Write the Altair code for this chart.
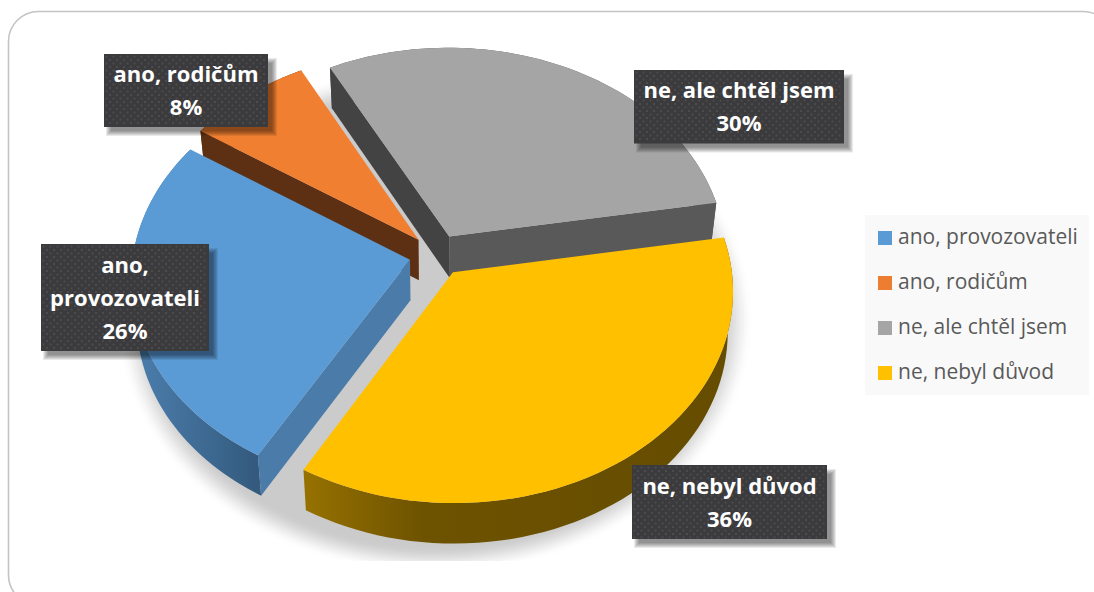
import math
import altair as alt

# Survey answers, in drawing order around the pie
categories = ["ano, provozovateli", "ano, rodičům", "ne, ale chtěl jsem", "ne, nebyl důvod"]
shares = [26, 8, 30, 36]
top_colors = ["#5B9BD5", "#F07F32", "#A5A5A5", "#FFC000"]
legend_colors = ["#5B9BD5", "#ED7D31", "#A5A5A5", "#FFC000"]
label_lines = [["ano,", "provozovateli"], ["ano, rodičům"], ["ne, ale chtěl jsem"], ["ne, nebyl důvod"]]

# Page and pie layout (pixels)
W, H = 1094, 592
CX, CY = 437, 255
RX, RY = 277, 208
PERSPECTIVE = 0.0857
EXPLODE = 0.10
DEPTH = 40.5
BASE_SHRINK = 0.982
START_ANGLE = 120.0

LABEL_BOXES = [(41, 244, 209, 351), (104, 54, 268, 127), (634, 70, 844, 143.5), (632, 465, 827, 539)]
LINE_STEP = 33

x_scale = alt.Scale(domain=[0, W], range=[0, W], clamp=False)
y_scale = alt.Scale(domain=[0, H], range=[0, H], clamp=False)
identity = dict(type="identity", scale=1, translate=[0, 0])


def project(x, y):
    w = 1 - PERSPECTIVE * y
    return (CX + RX * x / w, CY + RY * y / w)


def lower(p):
    return (CX + BASE_SHRINK * (p[0] - CX), p[1] + DEPTH)


def feature(points, color=None):
    ring = [list(p) for p in points]
    ring.append(ring[0])
    return {
        "type": "Feature",
        "properties": {"c": color},
        "geometry": {"type": "Polygon", "coordinates": [ring]},
    }


def poly(points, fill):
    data = alt.InlineData(values=[feature(points)])
    return alt.Chart(data).mark_geoshape(fill=fill, strokeWidth=0).project(**identity)


def sideways(stops):
    return {
        "gradient": "linear", "x1": 0, "y1": 0, "x2": 1, "y2": 0,
        "stops": [{"offset": o, "color": c} for o, c in stops],
    }


# Soft floor shadow built from concentric rings, light on the outside
def floor_shadow():
    rings = []
    n = 14
    for i in range(n):
        f = i / (n - 1)
        r = 1.0 - 0.11 * f
        ease = f * f * (3 - 2 * f)
        v = round(255 - (255 - 203) * ease)
        pts = []
        for deg in range(0, 360, 3):
            a = math.radians(deg)
            px = 435 + 320 * r * math.cos(a)
            py = 320 + 255 * r * math.sin(a)
            pts.append((min(max(px, 115), 758), min(py, 561)))
        rings.append(feature(pts, f"rgb({v},{v},{v})"))
    return (
        alt.Chart(alt.InlineData(values=rings))
        .mark_geoshape(strokeWidth=0)
        .encode(fill=alt.Fill("properties.c:N", scale=None, legend=None))
        .project(**identity)
    )


# Angular span of every slice, clockwise on screen
spans = []
angle = START_ANGLE
for s in shares:
    spans.append((angle, angle + s * 3.6))
    angle += s * 3.6

rim_fills = [
    sideways([(0, "#4C7FAE"), (1, "#33597C")]),
    "#5E3013",
    "#595959",
    sideways([(0, "#977200"), (0.28, "#6D5200"), (1, "#654C00")]),
]
# Which radial faces can be seen: start and end of the span
wall_fills = [("#4A7BA9", None), ("#5E3013", None), ("#434343", "#595959"), (None, None)]


def slice_layers(i):
    t0, t1 = spans[i]
    mid = math.radians((t0 + t1) / 2)
    ax, ay = EXPLODE * math.cos(mid), EXPLODE * math.sin(mid)
    apex = project(ax, ay)
    steps = 60
    arc = []
    for j in range(steps + 1):
        t = math.radians(t0 + (t1 - t0) * j / steps)
        arc.append(project(ax + math.cos(t), ay + math.sin(t)))
    layers = [poly(arc + [lower(p) for p in reversed(arc)], rim_fills[i])]
    start_fill, end_fill = wall_fills[i]
    if start_fill:
        layers.append(poly([apex, arc[0], lower(arc[0]), lower(apex)], start_fill))
    if end_fill:
        layers.append(poly([apex, arc[-1], lower(arc[-1]), lower(apex)], end_fill))
    layers.append(poly([apex] + arc, top_colors[i]))
    return layers


# Outer rounded frame, running past the page edge on the right and bottom
frame = (
    alt.Chart(alt.InlineData(values=[{"a": 8.5, "b": 1113, "c": 11.5, "d": 605}]))
    .mark_rect(fill="white", stroke="#C4C4C4", strokeWidth=1.6, cornerRadius=30)
    .encode(
        x=alt.X("a:Q", scale=x_scale, axis=None), x2="b:Q",
        y=alt.Y("c:Q", scale=y_scale, axis=None), y2="d:Q",
    )
)

# Label boxes: blurred drop shadow, dark plate, dotted texture, text
shadow_rows = []
for (x0, y0, x1, y1) in LABEL_BOXES:
    for g in range(6):
        shadow_rows.append({"a": x0 + 2 + g, "b": x1 + 9 - g, "c": y0 + 4 + g, "d": y1 + 9 - g})
label_shadow = (
    alt.Chart(alt.InlineData(values=shadow_rows))
    .mark_rect(color="#000000", opacity=0.085)
    .encode(
        x=alt.X("a:Q", scale=x_scale, axis=None), x2="b:Q",
        y=alt.Y("c:Q", scale=y_scale, axis=None), y2="d:Q",
    )
)
plates = (
    alt.Chart(alt.InlineData(values=[dict(a=b[0], c=b[1], b=b[2], d=b[3]) for b in LABEL_BOXES]))
    .mark_rect(color="#3B3B3D")
    .encode(
        x=alt.X("a:Q", scale=x_scale, axis=None), x2="b:Q",
        y=alt.Y("c:Q", scale=y_scale, axis=None), y2="d:Q",
    )
)
dots = []
for (x0, y0, x1, y1) in LABEL_BOXES:
    row = 0
    yy = y0 + 2.5
    while yy < y1 - 1:
        xx = x0 + (2.5 if row % 2 == 0 else 6)
        while xx < x1 - 1:
            dots.append({"x": xx, "y": yy})
            xx += 7
        yy += 3.5
        row += 1
texture = (
    alt.Chart(alt.InlineData(values=dots))
    .mark_square(size=4, color="#4E4E50", opacity=0.9, strokeWidth=0)
    .encode(x=alt.X("x:Q", scale=x_scale, axis=None), y=alt.Y("y:Q", scale=y_scale, axis=None))
)
label_rows = []
for box, lines, share in zip(LABEL_BOXES, label_lines, shares):
    all_lines = lines + [f"{share}%"]
    mid_x = (box[0] + box[2]) / 2
    mid_y = (box[1] + box[3]) / 2 + 1
    for k, line in enumerate(all_lines):
        label_rows.append({"x": mid_x, "y": mid_y + (k - (len(all_lines) - 1) / 2) * LINE_STEP, "t": line})
label_text = (
    alt.Chart(alt.InlineData(values=label_rows))
    .mark_text(font="Open Sans", fontWeight="bold", fontSize=22, color="white", baseline="middle", align="center")
    .encode(x=alt.X("x:Q", scale=x_scale, axis=None), y=alt.Y("y:Q", scale=y_scale, axis=None), text="t:N")
)

# Legend panel on the right
legend_panel = (
    alt.Chart(alt.InlineData(values=[{"a": 865, "b": 1089, "c": 215, "d": 395}]))
    .mark_rect(color="#F9F9F9")
    .encode(
        x=alt.X("a:Q", scale=x_scale, axis=None), x2="b:Q",
        y=alt.Y("c:Q", scale=y_scale, axis=None), y2="d:Q",
    )
)
legend_rows = [
    {"x": 885, "tx": 898, "y": 238 + 45 * i, "t": c, "col": legend_colors[i]}
    for i, c in enumerate(categories)
]
legend_swatches = (
    alt.Chart(alt.InlineData(values=legend_rows))
    .mark_square(size=196, opacity=1, strokeWidth=0)
    .encode(
        x=alt.X("x:Q", scale=x_scale, axis=None),
        y=alt.Y("y:Q", scale=y_scale, axis=None),
        fill=alt.Fill("col:N", scale=None, legend=None),
    )
)
legend_text = (
    alt.Chart(alt.InlineData(values=legend_rows))
    .mark_text(font="Open Sans", fontSize=21, color="#595959", baseline="middle", align="left")
    .encode(x=alt.X("tx:Q", scale=x_scale, axis=None), y=alt.Y("y:Q", scale=y_scale, axis=None), text="t:N")
)

pie = []
for idx in (2, 1, 0, 3):
    pie.extend(slice_layers(idx))

chart = alt.layer(
    frame, floor_shadow(), *pie,
    label_shadow, plates, texture, label_text,
    legend_panel, legend_swatches, legend_text,
).properties(width=W, height=H, padding=0, autosize="none", background="white").configure_view(stroke=None)

chart.save("out.html", embed_options={"renderer": "svg", "actions": False})
